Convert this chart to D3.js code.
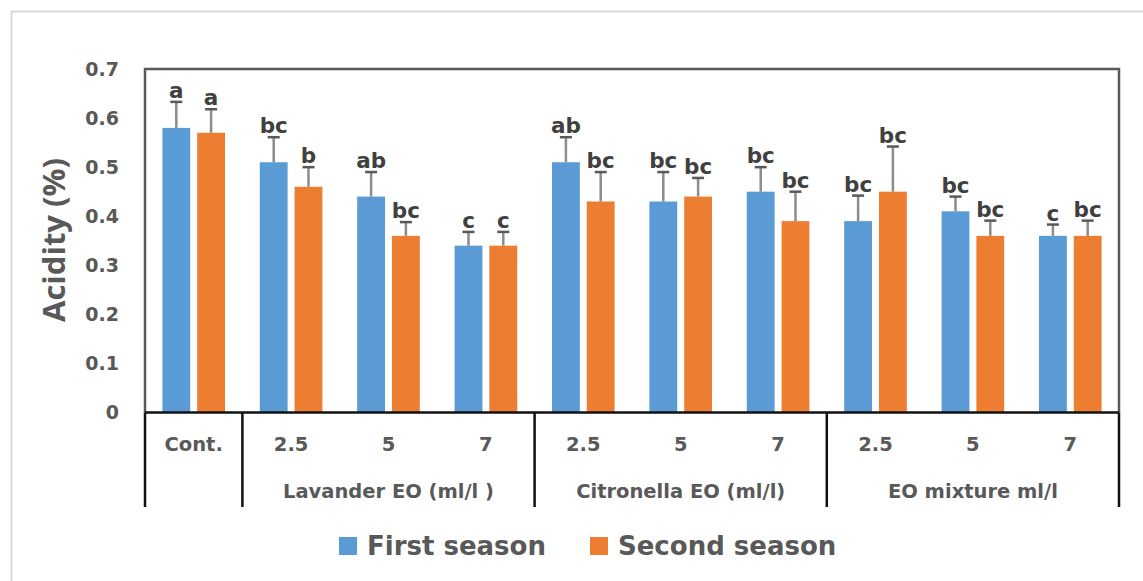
<!DOCTYPE html>
<html>
<head>
<meta charset="utf-8">
<script src="https://cdn.jsdelivr.net/npm/d3@7"></script>
<style>
  body { margin: 0; background: #fff; }
  text { font-family: "DejaVu Sans", sans-serif; font-weight: bold; }
</style>
</head>
<body>
<svg class="chart" width="1143" height="581"></svg>
<script>
/******** Data ********/
var categories = ["Cont.", "2.5", "5", "7", "2.5", "5", "7", "2.5", "5", "7"];
var groupLabels = ["", "Lavander EO (ml/l )", "Citronella EO (ml/l)", "EO mixture ml/l"];
var groupSizes = [1, 3, 3, 3];
var seriesNames = ["First season", "Second season"];
var firstSeason = [0.58, 0.51, 0.44, 0.34, 0.51, 0.43, 0.45, 0.39, 0.41, 0.36];
var secondSeason = [0.57, 0.46, 0.36, 0.34, 0.43, 0.44, 0.39, 0.45, 0.36, 0.36];
var firstErr = [0.053, 0.051, 0.05, 0.028, 0.051, 0.06, 0.05, 0.052, 0.03, 0.023];
var secondErr = [0.048, 0.04, 0.028, 0.028, 0.06, 0.038, 0.06, 0.092, 0.031, 0.031];
var firstLetters = ["a", "bc", "ab", "c", "ab", "bc", "bc", "bc", "bc", "c"];
var secondLetters = ["a", "b", "bc", "c", "bc", "bc", "bc", "bc", "bc", "bc"];
var yTicks = [0, 0.1, 0.2, 0.3, 0.4, 0.5, 0.6, 0.7];

/******** Layout ********/
var plotLeft = 145, plotRight = 1119, plotTop = 69, plotBottom = 412.5;
var colors = ["#5B9BD5", "#ED7D31"];
var textGray = "#595959";

var svg = d3.select(".chart");

// outer chart frame (light gray)
svg.append("rect")
  .attr("x", 11.5).attr("y", 11.5)
  .attr("width", 1200).attr("height", 700)
  .attr("fill", "none")
  .attr("stroke", "#d9d9d9")
  .attr("stroke-width", 2);

/******** Scales ********/
var x0 = d3.scaleBand()
  .domain(d3.range(categories.length))
  .range([plotLeft, plotRight]);

var x1 = d3.scaleBand()
  .domain([0, 1])
  .range([0, x0.bandwidth()])
  .paddingInner(0.2)
  .paddingOuter(0.5);

var y = d3.scaleLinear()
  .domain([0, 0.7])
  .range([plotBottom, plotTop]);

// rows: one per bar
var rows = [];
categories.forEach(function (c, i) {
  rows.push({ cat: i, s: 0, v: firstSeason[i], e: firstErr[i], letter: firstLetters[i] });
  rows.push({ cat: i, s: 1, v: secondSeason[i], e: secondErr[i], letter: secondLetters[i] });
});

var barMid = d => x0(d.cat) + x1(d.s) + x1.bandwidth() / 2;

/******** Bars ********/
svg.append("g").selectAll("rect")
  .data(rows)
  .enter().append("rect")
  .attr("x", d => x0(d.cat) + x1(d.s))
  .attr("y", d => y(d.v))
  .attr("width", x1.bandwidth())
  .attr("height", d => y(0) - y(d.v))
  .attr("fill", d => colors[d.s]);

/******** Error bars ********/
var err = svg.append("g");
err.selectAll("line.stem")
  .data(rows)
  .enter().append("line")
  .attr("class", "stem")
  .attr("x1", barMid)
  .attr("x2", barMid)
  .attr("y1", d => y(d.v))
  .attr("y2", d => y(d.v + d.e))
  .attr("stroke", "#8c8c8c")
  .attr("stroke-width", 2.5);

err.selectAll("line.cap")
  .data(rows)
  .enter().append("line")
  .attr("class", "cap")
  .attr("x1", d => barMid(d) - 6)
  .attr("x2", d => barMid(d) + 6)
  .attr("y1", d => y(d.v + d.e))
  .attr("y2", d => y(d.v + d.e))
  .attr("stroke", "#595959")
  .attr("stroke-width", 2.5);

// significance letters
svg.append("g").selectAll("text")
  .data(rows)
  .enter().append("text")
  .attr("x", barMid)
  .attr("y", d => y(d.v + d.e) - 4)
  .attr("text-anchor", "middle")
  .style("font-size", "21.5px")
  .style("fill", "#404040")
  .text(d => d.letter);

/******** Axes ********/
var yAxis = d3.axisLeft(y)
  .tickValues(yTicks)
  .tickSize(0)
  .tickPadding(26)
  .tickFormat(d => d === 0 ? "0" : d3.format(".1f")(d));

var yAxisGroup = svg.append("g")
  .attr("transform", "translate(" + plotLeft + ",0)")
  .call(yAxis);
yAxisGroup.select(".domain").remove();
yAxisGroup.attr("font-family", null).attr("font-size", null);
yAxisGroup.selectAll("text")
  .style("font-size", "19px")
  .style("fill", textGray);

// plot border
svg.append("path")
  .attr("d", "M" + plotLeft + "," + plotBottom + "V" + plotTop + "H" + plotRight + "V" + plotBottom)
  .attr("fill", "none")
  .attr("stroke", "#595959")
  .attr("stroke-width", 2.5);

// x axis base line
svg.append("line")
  .attr("x1", plotLeft).attr("x2", plotRight)
  .attr("y1", plotBottom).attr("y2", plotBottom)
  .attr("stroke", "#111")
  .attr("stroke-width", 2.5);

// category tick labels
svg.append("g").selectAll("text")
  .data(categories)
  .enter().append("text")
  .attr("x", (d, i) => x0(i) + x0.bandwidth() / 2)
  .attr("y", 451)
  .attr("text-anchor", "middle")
  .style("font-size", "19.5px")
  .style("fill", textGray)
  .text(d => d);

// group separators and labels
var start = 0;
var bounds = [0];
groupSizes.forEach(function (n) { start += n; bounds.push(start); });
var boundX = i => i < categories.length ? x0(i) : plotRight;

svg.append("g").selectAll("line")
  .data(bounds)
  .enter().append("line")
  .attr("x1", boundX)
  .attr("x2", boundX)
  .attr("y1", plotBottom)
  .attr("y2", 507)
  .attr("stroke", "#111")
  .attr("stroke-width", 2.5);

svg.append("g").selectAll("text")
  .data(groupLabels)
  .enter().append("text")
  .attr("x", (d, i) => (boundX(bounds[i]) + boundX(bounds[i + 1])) / 2)
  .attr("y", 498)
  .attr("text-anchor", "middle")
  .style("font-size", "19.5px")
  .style("fill", textGray)
  .text(d => d);

// y axis title
svg.append("text")
  .attr("transform", "translate(65,240) rotate(-90)")
  .attr("text-anchor", "middle")
  .style("font-family", "'Open Sans', sans-serif")
  .style("font-size", "31px")
  .style("fill", textGray)
  .text("Acidity (%)");

/******** Legend ********/
var legendX = [339, 590];
var legend = svg.append("g");
seriesNames.forEach(function (name, i) {
  legend.append("rect")
    .attr("x", legendX[i])
    .attr("y", 537)
    .attr("width", 18)
    .attr("height", 18)
    .attr("fill", colors[i]);
  legend.append("text")
    .attr("x", legendX[i] + 28)
    .attr("y", 555)
    .style("font-size", "26px")
    .style("fill", textGray)
    .text(name);
});
</script>
</body>
</html>
